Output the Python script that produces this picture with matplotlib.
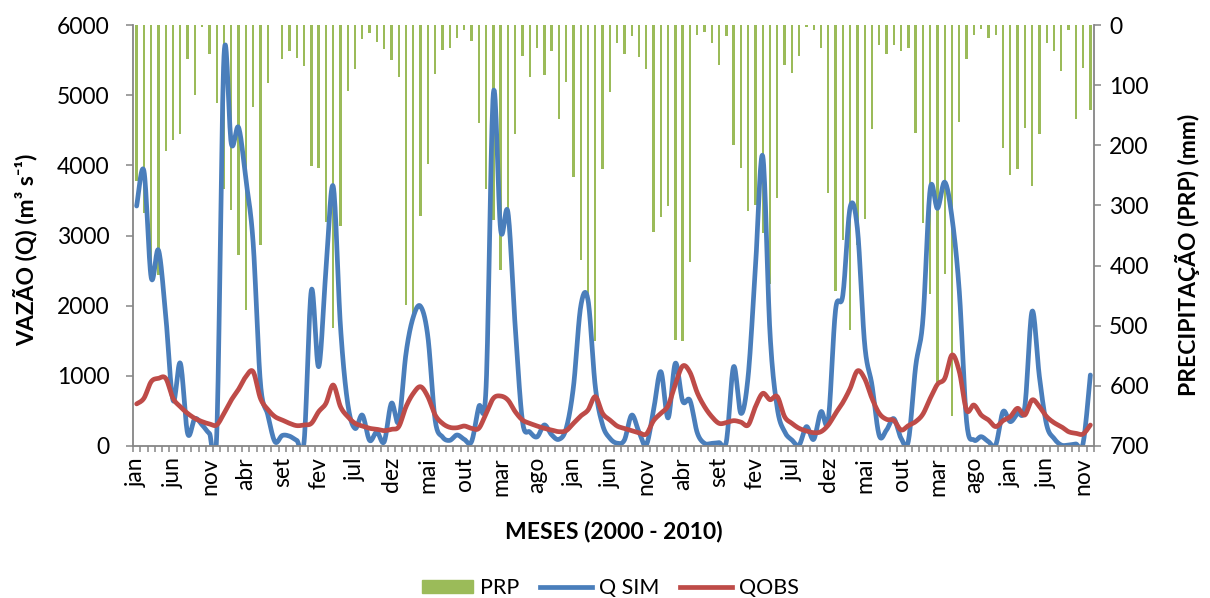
import numpy as np
import matplotlib
matplotlib.use('Agg')
import matplotlib.pyplot as plt
from matplotlib.patches import Patch
from matplotlib.lines import Line2D

plt.rcParams['font.family'] = ['Lato', 'DejaVu Sans']

# Meses de jan/2000 a dez/2010
meses = ['jan', 'fev', 'mar', 'abr', 'mai', 'jun', 'jul', 'ago', 'set', 'out', 'nov', 'dez']
rotulos = [meses[i % 12] for i in range(132)]

# Precipitação mensal (mm)
prp = [260, 313, 400, 416, 209, 192, 181, 57, 116, 3, 49, 130,
       272, 308, 382, 474, 137, 365, 97, 0, 57, 44, 55, 68,
       234, 237, 328, 504, 335, 110, 73, 24, 13, 29, 40, 59,
       86, 466, 480, 318, 231, 81, 42, 39, 21, 8, 26, 163,
       272, 324, 407, 320, 181, 51, 86, 39, 83, 44, 156, 94,
       252, 391, 460, 526, 239, 111, 30, 48, 19, 54, 73, 345,
       320, 301, 523, 526, 394, 17, 12, 30, 66, 18, 200, 237,
       310, 300, 346, 430, 287, 67, 80, 51, 3, 8, 38, 279,
       443, 357, 507, 366, 323, 173, 33, 48, 33, 44, 38, 180,
       330, 448, 593, 414, 650, 161, 57, 17, 7, 21, 17, 204,
       249, 240, 171, 267, 182, 30, 44, 77, 9, 157, 72, 141]

# Vazão simulada (m3/s)
q_sim = [3420, 3920, 2400, 2790, 1850, 650, 1180, 180, 390, 300, 180, 160,
         5560, 4310, 4540, 3800, 2900, 900, 450, 60, 150, 140, 80, 62,
         2220, 1130, 2500, 3700, 1700, 600, 250, 440, 80, 200, 60, 610,
         350, 1320, 1840, 1990, 1560, 370, 130, 80, 157, 95, 62, 560,
         845, 5030, 3080, 3330, 1700, 350, 200, 130, 300, 160, 95, 250,
         845, 1990, 2080, 845, 300, 110, 40, 85, 440, 200, 14, 510,
         1060, 400, 1180, 640, 650, 190, 38, 38, 48, 62, 1130, 465,
         1000, 2555, 4130, 1600, 537, 204, 86, 14, 276, 95, 489, 371,
         1938, 2150, 3400, 3100, 1450, 870, 150, 228, 390, 110, 70, 1130,
         1800, 3660, 3387, 3760, 3250, 2200, 350, 86, 133, 62, 14, 489,
         347, 465, 561, 1920, 988, 299, 109, 14, 14, 29, 38, 1012]

# Vazão observada (m3/s)
q_obs = [600, 680, 917, 964, 964, 680, 560, 465, 394, 347, 314, 300,
         465, 655, 808, 988, 1059, 680, 522, 418, 370, 323, 290, 300,
         323, 489, 608, 869, 560, 418, 323, 285, 252, 238, 219, 238,
         275, 560, 750, 845, 703, 442, 323, 266, 260, 285, 252, 252,
         465, 680, 712, 655, 489, 370, 323, 285, 252, 228, 204, 219,
         323, 428, 513, 703, 465, 370, 285, 250, 220, 190, 170, 360,
         466, 575, 880, 1140, 1050, 760, 561, 418, 323, 333, 361, 340,
         299, 560, 750, 660, 703, 418, 323, 252, 214, 190, 204, 299,
         465, 620, 820, 1070, 960, 680, 465, 380, 365, 228, 290, 347,
         455, 679, 880, 964, 1297, 1060, 510, 584, 442, 371, 276, 361,
         418, 537, 442, 656, 561, 418, 333, 276, 204, 181, 171, 299]


def suaviza(x, y, n=16):
    # linha suavizada no estilo do Excel (Bezier / Catmull-Rom)
    x = np.asarray(x, float)
    y = np.asarray(y, float)
    px = np.concatenate([[x[0]], x, [x[-1]]])
    py = np.concatenate([[y[0]], y, [y[-1]]])
    t = np.linspace(0, 1, n, endpoint=False)[:, None]
    xs, ys = [], []
    for k in range(1, len(px) - 2):
        b0 = np.array([px[k], py[k]])
        b3 = np.array([px[k + 1], py[k + 1]])
        b1 = b0 + (np.array([px[k + 1], py[k + 1]]) - np.array([px[k - 1], py[k - 1]])) / 6
        b2 = b3 - (np.array([px[k + 2], py[k + 2]]) - np.array([px[k], py[k]])) / 6
        c = ((1 - t) ** 3) * b0 + 3 * ((1 - t) ** 2) * t * b1 + 3 * (1 - t) * t ** 2 * b2 + t ** 3 * b3
        xs.append(c[:, 0]); ys.append(c[:, 1])
    xs.append([x[-1]]); ys.append([y[-1]])
    return np.concatenate(xs), np.concatenate(ys)


cinza = '#868686'
verde = '#9BBB59'
azul = '#4A7EBB'
vermelho = '#BE4B48'
fs = 16.5

x = np.arange(len(prp))

fig = plt.figure(figsize=(12.1, 5.98), dpi=100)
ax = fig.add_axes([133 / 1210, 1 - 446 / 598, (1094 - 133) / 1210, (446 - 25) / 598])
axb = ax.twinx()

# Barras de precipitação (eixo invertido à direita)
axb.bar(x, prp, width=0.32, color=verde, zorder=1)
axb.set_ylim(700, 0)
axb.set_yticks(np.arange(0, 701, 100))

# Vazões no eixo da esquerda, por cima das barras
ax.set_zorder(axb.get_zorder() + 1)
ax.patch.set_visible(False)
xs, ys = suaviza(x, q_sim)
ax.plot(xs, ys, color=azul, lw=3.4, solid_capstyle='round', solid_joinstyle='round')
xs, ys = suaviza(x, q_obs)
ax.plot(xs, ys, color=vermelho, lw=3.4, solid_capstyle='round', solid_joinstyle='round')

ax.set_ylim(0, 6000)
ax.set_yticks(np.arange(0, 6001, 1000))
ax.set_xlim(-0.5, len(prp) - 0.5)
ax.set_xticks(x[::5])
ax.set_xticklabels(rotulos[::5], rotation=90)
ax.set_xticks(np.arange(-0.5, len(prp), 1), minor=True)

for a in (ax, axb):
    a.spines['top'].set_visible(False)
    for s in a.spines.values():
        s.set_color(cinza)
        s.set_linewidth(1.3)
ax.spines['right'].set_visible(False)
axb.spines['left'].set_visible(False)
axb.spines['bottom'].set_visible(False)

ax.tick_params(axis='y', length=5, width=1.1, color=cinza, labelsize=fs, pad=12)
ax.tick_params(axis='x', which='major', length=0, labelsize=fs, pad=8)
ax.tick_params(axis='x', which='minor', length=4, width=1.1, color=cinza)
axb.tick_params(axis='y', length=5, width=1.1, color=cinza, labelsize=fs, pad=6)

fig.text(25 / 1210, 1 - 250 / 598, 'VAZÃO (Q) (m³ s⁻¹)', rotation=90,
         ha='center', va='center', fontsize=fs, fontweight='bold')
fig.text(1188 / 1210, 1 - 255 / 598, 'PRECIPITAÇÃO (PRP) (mm)', rotation=90,
         ha='center', va='center', fontsize=fs, fontweight='bold')
fig.text(613.5 / 1210, 1 - 532 / 598, 'MESES (2000 - 2010)',
         ha='center', va='center', fontsize=fs, fontweight='bold')

handles = [Patch(color=verde), Line2D([], [], color=azul, lw=3.4),
           Line2D([], [], color=vermelho, lw=3.4)]
fig.legend(handles, ['PRP', 'Q SIM', 'QOBS'], loc='center',
           bbox_to_anchor=(610 / 1210, 1 - 588 / 598), ncol=3, frameon=False,
           fontsize=fs - 1, handlelength=2.4, handleheight=0.6,
           handletextpad=0.3, columnspacing=1.0)

fig.savefig('out.png', dpi=100)
